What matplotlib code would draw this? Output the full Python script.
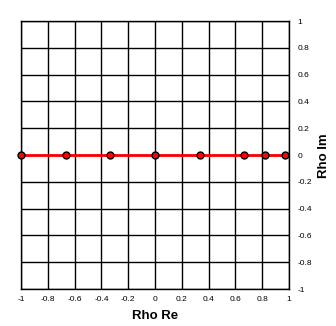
import numpy as np
import matplotlib
matplotlib.use("Agg")
import matplotlib.pyplot as plt

plt.rcParams["font.family"] = ["Liberation Sans", "DejaVu Sans"]

rho_re = [-1.0, -0.667, -0.333, 0.0, 0.333, 0.667, 0.82, 0.97]
rho_im = [0, 0, 0, 0, 0, 0, 0, 0]
ticks = [-1, -0.8, -0.6, -0.4, -0.2, 0, 0.2, 0.4, 0.6, 0.8, 1]
tick_labels = ["-1", "-0.8", "-0.6", "-0.4", "-0.2", "0", "0.2", "0.4", "0.6", "0.8", "1"]

fig = plt.figure(figsize=(3.36, 3.26), dpi=100)
W, H = 336, 326
ax = fig.add_axes([21 / W, 1 - 289 / H, 268 / W, 268 / H])

ax.plot(rho_re, rho_im, color="red", lw=2, marker="o", ms=5,
        mfc="red", mec="black", mew=1, zorder=3, clip_on=False)

ax.set_xlim(-1, 1)
ax.set_ylim(-1, 1)
ax.set_xticks(ticks)
ax.set_xticklabels(tick_labels)
ax.set_yticks(ticks)
ax.set_yticklabels(tick_labels)
ax.yaxis.tick_right()
ax.yaxis.set_label_position("right")
ax.tick_params(labelsize=6, length=0)
ax.tick_params(axis="x", pad=5)
ax.tick_params(axis="y", pad=6)
ax.grid(True, color="black", lw=1)
for s in ax.spines.values():
    s.set_linewidth(1)

ax.set_xlabel("Rho Re", fontsize=9.5, fontweight="bold", labelpad=5)
ax.set_ylabel("Rho Im", fontsize=9.5, fontweight="bold")
ax.yaxis.set_label_coords(1.108, 0.496)

fig.savefig("out.png", dpi=100)
